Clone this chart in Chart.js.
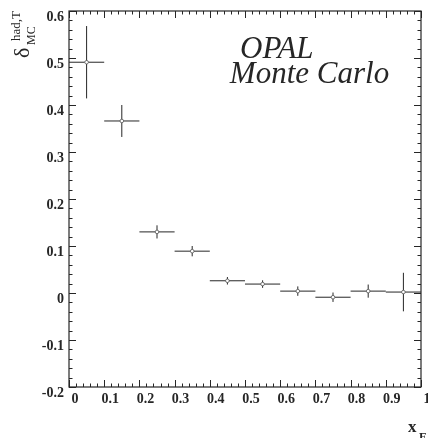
<!DOCTYPE html>
<html>
<head>
<meta charset="utf-8">
<script src="https://cdn.jsdelivr.net/npm/chart.js@4.4.1/dist/chart.umd.min.js"></script>
<style>
	html, body { margin: 0; padding: 0; background: #fff; }
	canvas { display: block; }
</style>
</head>
<body>
<canvas id="delta" width="428" height="438"></canvas>
<script>
// x_E bins and the hadronisation correction in each bin
const binLow = [0.0, 0.1, 0.2, 0.3, 0.4, 0.5, 0.6, 0.7, 0.8, 0.9];
const binHigh = [0.1, 0.2, 0.3, 0.4, 0.5, 0.6, 0.7, 0.8, 0.9, 1.0];
const deltaValues = [0.491, 0.366, 0.130, 0.089, 0.026, 0.019, 0.004, -0.009, 0.004, 0.002];
const deltaErrors = [0.077, 0.034, 0.014, 0.011, 0.008, 0.008, 0.010, 0.010, 0.014, 0.041];

const xTicks = [0, 0.1, 0.2, 0.3, 0.4, 0.5, 0.6, 0.7, 0.8, 0.9, 1];
const yTicks = [-0.2, -0.1, 0, 0.1, 0.2, 0.3, 0.4, 0.5, 0.6];

const ink = "#262626";
const serif = "'Liberation Serif', 'DejaVu Serif', serif";

const points = binLow.map((lo, i) => ({ x: (lo + binHigh[i]) / 2, y: deltaValues[i] }));

// horizontal bin width and vertical error for each point
const errorBars = {
	id: "errorBars",
	beforeDatasetsDraw(chart) {
		const { ctx } = chart;
		const xs = chart.scales.x;
		const ys = chart.scales.y;
		ctx.save();
		ctx.strokeStyle = ink;
		ctx.lineWidth = 1;
		deltaValues.forEach((v, i) => {
			const yc = ys.getPixelForValue(v);
			const xc = xs.getPixelForValue(points[i].x);
			ctx.beginPath();
			ctx.moveTo(xs.getPixelForValue(binLow[i]), yc);
			ctx.lineTo(xs.getPixelForValue(binHigh[i]), yc);
			ctx.moveTo(xc, ys.getPixelForValue(v + deltaErrors[i]));
			ctx.lineTo(xc, ys.getPixelForValue(v - deltaErrors[i]));
			ctx.stroke();
		});
		ctx.restore();
	},
};

// closed frame with inward ticks on all four sides, plus titles
const frame = {
	id: "frame",
	afterDraw(chart) {
		const { ctx, chartArea: a } = chart;
		const xs = chart.scales.x;
		const ys = chart.scales.y;
		ctx.save();
		ctx.strokeStyle = ink;
		ctx.lineWidth = 1.2;
		ctx.strokeRect(a.left, a.top, a.right - a.left, a.bottom - a.top);

		ctx.lineWidth = 1;
		ctx.beginPath();
		for (let k = 0; k <= 50; k++) {
			const px = Math.round(xs.getPixelForValue(k * 0.02)) + 0.5;
			const len = k % 5 === 0 ? 7 : 3.5;
			ctx.moveTo(px, a.bottom);
			ctx.lineTo(px, a.bottom - len);
			ctx.moveTo(px, a.top);
			ctx.lineTo(px, a.top + len);
		}
		for (let k = 0; k <= 40; k++) {
			const py = Math.round(ys.getPixelForValue(-0.2 + k * 0.02)) + 0.5;
			const len = k % 5 === 0 ? 7 : 3.5;
			ctx.moveTo(a.left, py);
			ctx.lineTo(a.left + len, py);
			ctx.moveTo(a.right, py);
			ctx.lineTo(a.right - len, py);
		}
		ctx.stroke();

		ctx.fillStyle = ink;

		// in-plot labels
		ctx.font = "italic 31px " + serif;
		ctx.textBaseline = "alphabetic";
		ctx.fillText("OPAL", xs.getPixelForValue(0.486), ys.getPixelForValue(0.5));
		ctx.fillText("Monte Carlo", xs.getPixelForValue(0.457), ys.getPixelForValue(0.447));

		// x axis title
		ctx.font = "bold 17px " + serif;
		ctx.fillText("x", 408, 432);
		ctx.font = "bold 12px " + serif;
		ctx.fillText("E", 419, 441);

		// y axis title, rotated
		ctx.translate(29, 58);
		ctx.rotate(-Math.PI / 2);
		ctx.font = "22px " + serif;
		ctx.fillText("δ", 0, 0);
		ctx.font = "12px " + serif;
		ctx.fillText("MC", 13, 6);
		ctx.font = "13px " + serif;
		ctx.fillText("had,T", 17, -9);
		ctx.restore();
	},
};

const fmt = v => String(Math.round(v * 10) / 10);

new Chart(document.getElementById("delta"), {
	type: "scatter",
	plugins: [errorBars, frame],
	data: {
		datasets: [
			{
				data: points,
				pointStyle: "circle",
				pointRadius: 1.8,
				pointBackgroundColor: "#fff",
				pointBorderColor: "#555",
				pointBorderWidth: 0.8,
			},
		],
	},
	options: {
		responsive: false,
		animation: false,
		devicePixelRatio: 1,
		layout: { padding: { top: 11, right: 7, bottom: 0, left: 0 } },
		plugins: {
			legend: { display: false },
			tooltip: { enabled: false },
		},
		scales: {
			x: {
				type: "linear",
				min: 0,
				max: 1,
				afterBuildTicks: s => { s.ticks = xTicks.map(v => ({ value: v })); },
				grid: { display: false, drawTicks: false },
				border: { display: false },
				ticks: {
					callback: fmt,
					autoSkip: false,
					maxRotation: 0,
					padding: 4,
					labelOffset: 6,
					color: ink,
					font: { family: serif, size: 14, weight: "bold" },
				},
				afterFit: s => {
					s.height = 51;
					s.paddingLeft = 0;
					s.paddingRight = 0;
				},
			},
			y: {
				type: "linear",
				min: -0.2,
				max: 0.6,
				afterBuildTicks: s => { s.ticks = yTicks.map(v => ({ value: v })); },
				grid: { display: false, drawTicks: false },
				border: { display: false },
				ticks: {
					callback: fmt,
					autoSkip: false,
					padding: 5,
					labelOffset: 6,
					color: ink,
					font: { family: serif, size: 14, weight: "bold" },
				},
				afterFit: s => {
					s.width = 69;
					s.paddingTop = 0;
					s.paddingBottom = 0;
				},
			},
		},
	},
});
</script>
</body>
</html>
